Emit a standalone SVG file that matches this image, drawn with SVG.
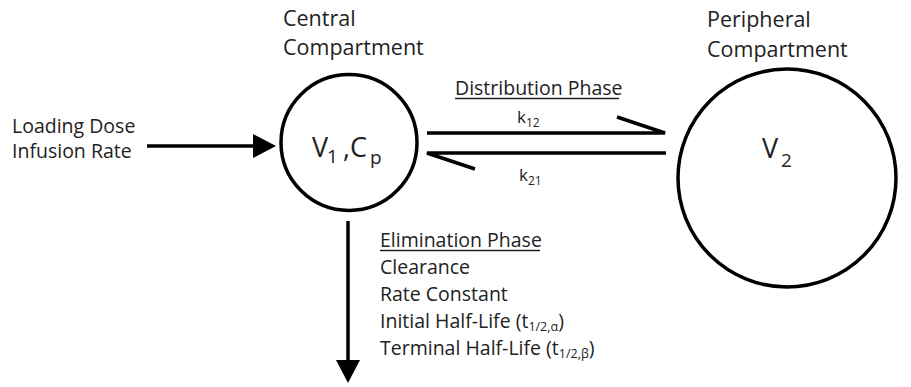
<svg xmlns="http://www.w3.org/2000/svg" width="911" height="387" viewBox="0 0 911 387">
<style>
text{font-family:"Open Sans","Liberation Sans",sans-serif;fill:#222;}
.lbl{font-size:19.5px;}
.comp{font-size:21.5px;}
.big{font-size:27px;}
.sub{font-size:19px;}
.k{font-size:17px;}
.ks{font-size:12px;}
.ss{font-size:12.5px;}
.node{fill:#fff;stroke:#000;stroke-width:3.5;}
.line{stroke:#000;stroke-width:3.5;fill:none;stroke-linecap:butt;}
.ul{stroke:#222;stroke-width:1.3;}
</style>
<defs>
<marker id="ah" viewBox="0 0 24 24" markerWidth="24" markerHeight="24" refX="0" refY="12" orient="auto" markerUnits="userSpaceOnUse">
<path d="M0,0 L23,12 L0,24 Z" fill="#000"/>
</marker>
</defs>
<g id="central">
<circle class="node" cx="349" cy="142.5" r="68"/>
<text class="comp" x="283" y="26">Central</text>
<text class="comp" x="283" y="55">Compartment</text>
<text class="big" x="312" y="157">V</text>
<text class="sub" x="327" y="163">1</text>
<text class="big" x="343" y="157">,</text>
<text class="big" x="350" y="157">C</text>
<text class="sub" x="370" y="164">p</text>
</g>
<g id="peripheral">
<circle class="node" cx="787" cy="178" r="109"/>
<text class="comp" x="707" y="27">Peripheral</text>
<text class="comp" x="707" y="57">Compartment</text>
<text class="big" x="762" y="158">V</text>
<text class="sub" x="781" y="167">2</text>
</g>
<g id="input">
<text class="lbl" x="12" y="133">Loading Dose</text>
<text class="lbl" x="12" y="158">Infusion Rate</text>
</g>
<g id="elimination">
<text class="lbl" x="380" y="247">Elimination Phase</text>
<line class="ul" x1="380" y1="250.5" x2="540" y2="250.5"/>
<text class="lbl" x="380" y="274">Clearance</text>
<text class="lbl" x="380" y="301">Rate Constant</text>
<text class="lbl" x="380" y="328">Initial Half-Life (t<tspan class="ss" dy="3">1/2,α</tspan><tspan dy="-3">)</tspan></text>
<text class="lbl" x="380" y="355">Terminal Half-Life (t<tspan class="ss" dy="3">1/2,β</tspan><tspan dy="-3">)</tspan></text>
</g>
<g id="distribution">
<text class="lbl" x="455" y="95">Distribution Phase</text>
<line class="ul" x1="455" y1="98.5" x2="619" y2="98.5"/>
<text class="k" x="517" y="123">k<tspan class="ks" dy="4">12</tspan></text>
<text class="k" x="519" y="181">k<tspan class="ks" dy="4">21</tspan></text>
</g>
<g id="connectors">
<line class="line" x1="147" y1="146" x2="253" y2="146" marker-end="url(#ah)"/>
<line class="line" x1="348" y1="221" x2="348" y2="360" marker-end="url(#ah)"/>
<path class="line" d="M427,133 L665,133 L617,117"/>
<path class="line" d="M666,153 L427,153 L475,169"/>
</g>
</svg>
